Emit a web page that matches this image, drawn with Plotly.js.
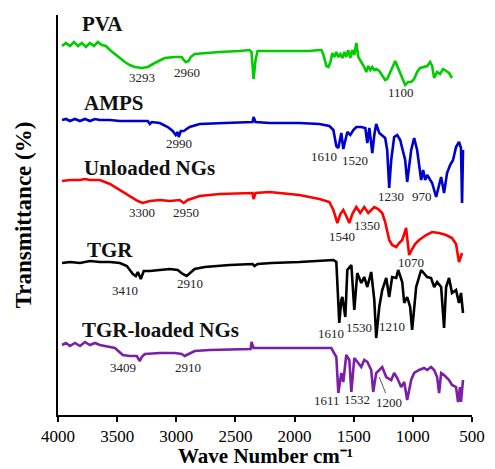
<!DOCTYPE html>
<html>
<head>
<meta charset="utf-8">
<script src="https://cdn.plot.ly/plotly-3.0.1.min.js"></script>
<style>html,body{margin:0;padding:0;background:#fff;}#chart{width:495px;height:469px;}</style>
</head>
<body>
<div id="chart"></div>
<script>
// Wavenumbers (cm-1) and offset transmittance values
const pvaX = [3966,3933,3899,3865,3831,3798,3764,3730,3696,3663,3629,3595,3561,3519,3477,3435,3393,3351,3292,3241,3182,3098,3013,2954,2937,2920,2895,2878,2845,2760,2634,2465,2381,2364,2347,2330,2313,2212,2043,1874,1790,1773,1756,1731,1714,1697,1681,1664,1647,1630,1613,1596,1579,1563,1546,1529,1512,1495,1478,1461,1436,1411,1394,1377,1360,1343,1326,1310,1284,1259,1234,1217,1191,1166,1149,1132,1107,1090,1065,1040,1014,989,964,939,905,879,854,837,820,795,770,744,719,694,669];
const pvaY = [92.25,93,92.25,93.25,92.25,93,92,93,92.25,93.25,92.5,92.25,91.25,90.25,89.25,88.25,87.5,87,86.75,87,88,89.25,89.5,89.5,88.75,88.25,88.5,89.5,90.25,90.5,90.75,91,91.25,90.75,84,88.75,91,91,91,91,91.25,91.25,90,87.25,87,88.25,90.5,89.5,90.75,89.5,90.25,89.25,90.75,89.5,91.25,89.25,91.25,90,93,89.5,88.25,87,85.75,87.25,86.25,87,86.25,86.5,86,84.75,83.75,84,85.75,87.75,88.5,87.25,85.5,84.25,82.5,83.25,83.25,84,85.75,86.75,87,87.25,88.25,87.25,84.25,85.75,85.25,86.5,86,85.5,84.25];

const ampsX = [3966,3933,3899,3857,3814,3772,3730,3688,3646,3561,3477,3393,3308,3241,3224,3207,3140,3072,3030,3005,2988,2979,2962,2937,2887,2802,2592,2381,2355,2347,2330,2212,1959,1790,1706,1672,1647,1630,1613,1605,1588,1571,1554,1529,1503,1478,1436,1402,1385,1368,1343,1326,1310,1284,1259,1234,1217,1200,1183,1158,1132,1107,1082,1065,1048,1031,1014,989,964,947,930,913,896,879,863,837,820,803,778,761,736,711,685,660,635,610,593,584,576];
const ampsY = [73.75,74,73.5,74,73.5,74,73.5,74,73.75,73.75,73.5,73.5,73.5,73.5,72.75,73.25,73,72,71,70,70.75,69.5,71,71,72,72.75,73,73.25,73.25,74.5,73.25,73,73,72.75,72.25,71.25,67.25,66.75,69.25,70.5,66.5,68.75,70.75,70,71.25,72,72,71.75,68,71.75,65.5,70,72.75,70.5,69.75,69.25,66.25,56.75,63.75,69.5,70,68.75,65.75,63.75,58.25,62.5,66.25,69.25,66.25,62.5,58.75,61.25,58.75,60,59.25,58,56.25,54.5,57.5,59.5,55.5,60.5,62.5,63.75,67,68.25,66.75,53,66.25];

const unloadedX = [3966,3899,3814,3772,3730,3646,3561,3477,3393,3325,3283,3224,3140,3055,2971,2937,2903,2802,2634,2381,2355,2347,2330,2212,1959,1790,1706,1672,1655,1638,1613,1588,1563,1537,1512,1478,1445,1411,1377,1352,1326,1293,1259,1234,1217,1200,1175,1141,1116,1090,1073,1057,1048,1031,1006,981,947,888,837,778,719,669,635,610,584];
const unloadedY = [58.5,58.75,58.75,59,58.75,58.75,57.75,56.25,54.75,53.5,53,53.5,53.75,53.5,53.75,53,53.75,54.75,55.25,55.5,55.5,54,55.5,55.75,55,54,53.25,51.25,49.25,48,50.25,51.25,49.75,48,50.25,52,50.5,52,50.5,51.25,52,51.5,50.5,48.25,45.75,43.75,42.5,42,43,43.75,45.25,46.75,44.25,40,41.5,42.75,43.75,45,45.75,45.5,45,44.25,42.75,38.25,40.5];

const tgrX = [3966,3899,3814,3730,3646,3561,3477,3418,3367,3342,3325,3300,3275,3224,3140,3055,2988,2946,2912,2878,2845,2760,2549,2355,2338,2313,2195,1959,1790,1672,1647,1630,1622,1605,1596,1571,1554,1520,1495,1470,1436,1411,1385,1352,1326,1310,1284,1259,1225,1200,1175,1141,1124,1090,1073,1048,1023,1006,972,930,905,879,846,820,795,761,736,719,694,669,635,610,593,576];
const tgrY = [38,38.25,38,38.5,38.25,38.25,38,37.25,35.25,34.75,35.75,34,36,36,36.25,36.5,36.25,35.25,34.75,35.75,36.5,37,37.5,37.75,37.25,37.75,38,38.25,38.5,38.75,38.25,28.75,23,28.75,29.5,24.5,36.25,37.5,26.25,35.5,33,34.5,32,35.75,28.75,19.25,27,31.25,34.25,29.5,34.5,34.25,36.25,33.25,28,29.5,27,21.25,32,36.25,35.5,34.5,34.25,32,33.25,32,21.75,32,34.25,30.5,31.25,28,30.5,25.5];

const loadedX = [3966,3933,3899,3857,3814,3772,3730,3688,3646,3519,3452,3393,3334,3308,3292,3266,3140,3013,2954,2929,2895,2845,2718,2381,2372,2364,2347,2170,1959,1689,1681,1647,1630,1605,1588,1563,1537,1520,1495,1470,1436,1411,1385,1352,1335,1310,1284,1259,1225,1183,1158,1132,1099,1073,1048,1014,989,947,905,879,846,820,795,778,761,736,694,669,635,618,601,593,576];
const loadedY = [17.5,18,17.25,18,17.25,18.25,17.5,18,17.5,16.75,15,14.75,14.75,13.5,14.5,15.25,15.5,15.5,15.25,14.75,15.25,16,16.25,16.5,16.5,18.25,16.75,16.75,16.75,16.75,16.25,14.5,5.5,10.5,8.25,15,13.75,5.75,14.25,13.25,12,13.75,13.25,11.25,5.75,10.5,11.25,12,9.5,8.75,10.5,9.25,7,8.25,3.75,8.75,10.5,11.25,11.75,11.25,12,11.25,9.5,5.5,10.5,10,8.75,7.5,7,3.25,7,3.25,8.75];

const seriesNames = ["PVA", "AMPS", "Unloaded NGs", "TGR", "TGR-loaded NGs"];
const seriesColors = ["#00CC00", "#0000CC", "#FF0000", "#000000", "#7B1FA8"];

// Series name labels: [name, wavenumber, value]
const nameLabels = [["PVA",3814,97.75],["AMPS",3798,78],["Unloaded NGs",3798,61.75],["TGR",3772,41.25],["TGR-loaded NGs",3814,21.25]];

// Peak labels: [text, wavenumber, value]
const peakLabels = [
  ["3293",3292,84.5],["2960",2912,85.75],["1100",1099,80.75],
  ["2990",2979,68],["1610",1748,64.75],["1520",1487,63.75],["1230",1183,54.75],["970",922,54.75],
  ["3300",3292,50.75],["2950",2920,50.75],["1540",1596,44.75],["1350",1385,47.5],["1070",1014,38.25],
  ["3410",3435,31.25],["2910",2887,33],["1610",1689,20.5],["1530",1453,22],["1210",1175,22.25],
  ["3409",3452,12],["2910",2904,12],["1611",1723,3.75],["1532",1470,4]
];

const xTitle = "<b>Wave Number cm\u207B\u00B9</b>";
const yTitle = "<b>Transmittance (%)</b>";

const xs = [pvaX, ampsX, unloadedX, tgrX, loadedX];
const ys = [pvaY, ampsY, unloadedY, tgrY, loadedY];

const traces = xs.map((x, i) => ({
  type: "scatter", mode: "lines", x: x, y: ys[i], name: seriesNames[i],
  line: {color: seriesColors[i], width: 2.6, shape: "linear"},
  hoverinfo: "skip"
}));

const serif = "'Liberation Serif', 'Times New Roman', serif";
const annotations = [];
nameLabels.forEach(l => annotations.push({
  text: "<b>" + l[0] + "</b>", x: l[1], y: l[2], xref: "x", yref: "y",
  xanchor: "left", yanchor: "middle", showarrow: false,
  font: {family: serif, size: 21, color: "#111"}
}));
peakLabels.forEach(l => annotations.push({
  text: l[0], x: l[1], y: l[2], xref: "x", yref: "y",
  xanchor: "center", yanchor: "middle", showarrow: false,
  font: {family: serif, size: 13, color: "#222"}
}));
annotations.push({
  text: "1200", x: 1284, y: 9.5, xref: "x", yref: "y",
  ax: 1200, ay: 3.25, axref: "x", ayref: "y",
  showarrow: true, arrowhead: 0, arrowwidth: 0.8, arrowcolor: "#333",
  font: {family: serif, size: 13, color: "#222"}
});
// x-axis title placed just under the tick labels
annotations.push({
  text: xTitle, x: 0.5, y: -0.135, xref: "paper", yref: "paper",
  xanchor: "center", yanchor: "bottom", showarrow: false,
  borderpad: 0,
  font: {family: serif, size: 21, color: "#000"}
});

const layout = {
  width: 495, height: 469,
  margin: {l: 58, r: 23, t: 15, b: 54},
  paper_bgcolor: "#fff", plot_bgcolor: "#fff",
  showlegend: false,
  xaxis: {
    range: [4000, 500], tickvals: [4000,3500,3000,2500,2000,1500,1000,500],
    ticks: "outside", ticklen: 5, tickwidth: 2, tickcolor: "#000",
    showline: true, linewidth: 2, linecolor: "#000", mirror: false,
    showgrid: false, zeroline: false, automargin: false,
    tickfont: {family: serif, size: 17, color: "#000"}
  },
  yaxis: {
    range: [0, 100], showticklabels: false, ticks: "",
    showline: true, linewidth: 2, linecolor: "#000",
    showgrid: false, zeroline: false, automargin: false,
    title: {text: yTitle, font: {family: serif, size: 23, color: "#000"}, standoff: 18}
  },
  annotations: annotations
};

Plotly.newPlot("chart", traces, layout, {displayModeBar: false, staticPlot: true});
</script>
</body>
</html>
